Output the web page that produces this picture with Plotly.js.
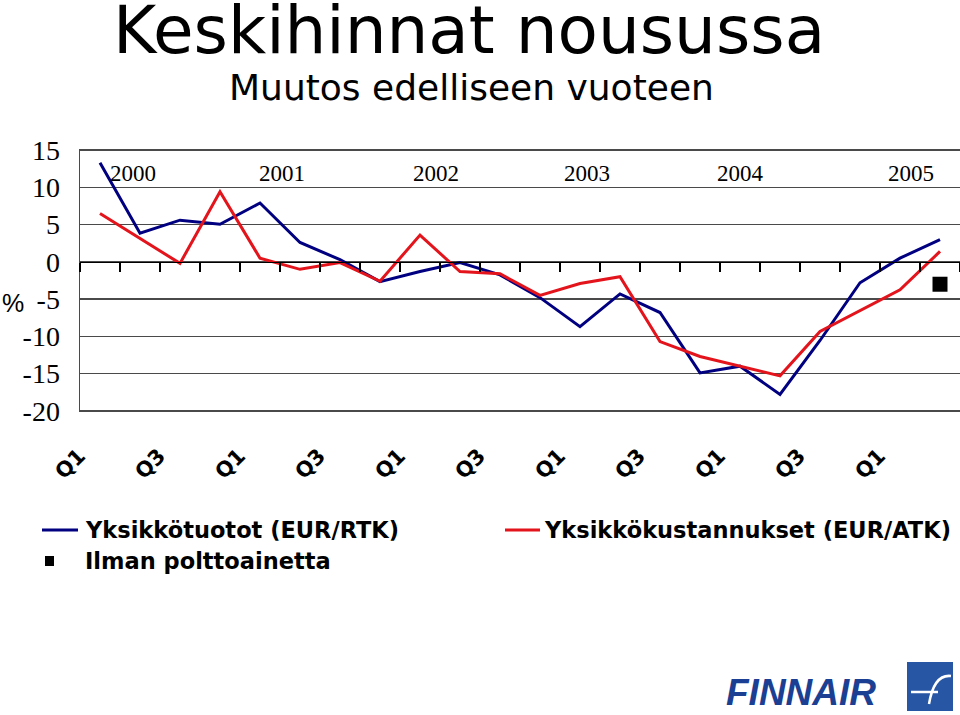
<!DOCTYPE html>
<html>
<head>
<meta charset="utf-8">
<script src="https://cdn.plot.ly/plotly-3.0.1.min.js"></script>
<style>html,body{margin:0;padding:0;background:#fff;}#chart{width:960px;height:715px;}</style>
</head>
<body>
<div id="chart"></div>
<script>
// ---- data ----
const years = ['2000', '2001', '2002', '2003', '2004', '2005'];
const quarters = ['Q1', 'Q2', 'Q3', 'Q4'];
const categories = [];
years.forEach(y => quarters.forEach(q => categories.push(y + ' ' + q)));
categories.splice(22); // data runs to 2005 Q2

const unitRevenue = [13.3, 3.85, 5.6, 5.05, 7.9, 2.6, 0.3, -2.65, -1.3, -0.1, -1.75,
                     -4.8, -8.7, -4.3, -6.8, -14.9, -14.0, -17.8, -10.55, -2.8, 0.5, 3.0];
const unitCost = [6.5, 3.2, -0.2, 9.4, 0.5, -1.0, -0.1, -2.6, 3.6, -1.3, -1.6,
                  -4.5, -2.9, -2.0, -10.7, -12.7, -14.0, -15.3, -9.35, -6.6, -3.75, 1.4];
const exFuelCat = ['2005 Q2'];
const exFuelVal = [-3.0];

const seriesNames = ['Yksikkötuotot (EUR/RTK)', 'Yksikkökustannukset (EUR/ATK)', 'Ilman polttoainetta'];
const yearLabelX = [133, 282, 436, 587, 740, 911]; // pixel centres of year captions
const yTicks = [15, 10, 5, 0, -5, -10, -15, -20];

// ---- geometry helpers (pixel -> paper) ----
const L = 80, R = 960, T = 149, B = 412;
const px = x => (x - L) / (R - L);
const py = y => (B - y) / (B - T);

const blue = '#000080', red = '#e3141b';

const traces = [
  {x: categories, y: unitRevenue, type: 'scatter', mode: 'lines', name: seriesNames[0],
   line: {color: blue, width: 3}, hoverinfo: 'x+y'},
  {x: categories, y: unitCost, type: 'scatter', mode: 'lines', name: seriesNames[1],
   line: {color: red, width: 3}, hoverinfo: 'x+y'},
  {x: exFuelCat, y: exFuelVal, type: 'scatter', mode: 'markers', name: seriesNames[2],
   marker: {color: '#000', symbol: 'square', size: 15}, hoverinfo: 'x+y'}
];

const annotations = [];
// title & subtitle
annotations.push({text: 'Keskihinnat nousussa', xref: 'paper', yref: 'paper', x: px(469), y: py(31),
  xanchor: 'center', yanchor: 'middle', showarrow: false,
  font: {family: 'DejaVu Sans, Verdana, sans-serif', size: 66, color: '#000'}});
annotations.push({text: 'Muutos edelliseen vuoteen', xref: 'paper', yref: 'paper', x: px(471), y: py(88),
  xanchor: 'center', yanchor: 'middle', showarrow: false,
  font: {family: 'DejaVu Sans, Verdana, sans-serif', size: 36, color: '#000'}});
// year captions
years.forEach((yr, i) => annotations.push({text: yr, xref: 'paper', yref: 'paper',
  x: px(yearLabelX[i]), y: py(173), xanchor: 'center', yanchor: 'middle', showarrow: false,
  font: {family: 'Liberation Serif, Times New Roman, serif', size: 23, color: '#000'}}));
// quarter labels (Q1 / Q3) below plot
categories.forEach((c, i) => {
  const q = c.split(' ')[1];
  if (q === 'Q1' || q === 'Q3') {
    annotations.push({text: '<b>' + q + '</b>', xref: 'x', yref: 'paper', x: c, y: py(464), xshift: -30,
      xanchor: 'center', yanchor: 'middle', textangle: -45, showarrow: false,
      font: {family: 'DejaVu Sans, Verdana, sans-serif', size: 21, color: '#000', weight: 700}});
  }
});
// % label
annotations.push({text: '%', xref: 'paper', yref: 'paper', x: px(13), y: py(303),
  xanchor: 'center', yanchor: 'middle', showarrow: false,
  font: {family: 'Liberation Sans, Arial, sans-serif', size: 25, color: '#000'}});
// legend texts
const legFont = {family: 'DejaVu Sans, Verdana, sans-serif', size: 22.5, color: '#000', weight: 700};
annotations.push({text: '<b>' + seriesNames[0] + '</b>', xref: 'paper', yref: 'paper', x: px(83), y: py(530),
  xanchor: 'left', yanchor: 'middle', showarrow: false, font: legFont});
annotations.push({text: '<b>' + seriesNames[1] + '</b>', xref: 'paper', yref: 'paper', x: px(542), y: py(530),
  xanchor: 'left', yanchor: 'middle', showarrow: false, font: legFont});
annotations.push({text: '<b>' + seriesNames[2] + '</b>', xref: 'paper', yref: 'paper', x: px(83), y: py(561),
  xanchor: 'left', yanchor: 'middle', showarrow: false, font: legFont});
// logo text
annotations.push({text: '<b><i>FINNAIR</i></b>', xref: 'paper', yref: 'paper', x: px(801), y: py(692),
  xanchor: 'center', yanchor: 'middle', showarrow: false,
  font: {family: 'Liberation Sans, Arial, sans-serif', size: 37, color: '#1b3f92', weight: 700, style: 'italic'}});

const shapes = [
  // legend samples
  {type: 'line', xref: 'paper', yref: 'paper', x0: px(42), x1: px(78), y0: py(530), y1: py(530),
   line: {color: blue, width: 3}},
  {type: 'line', xref: 'paper', yref: 'paper', x0: px(505), x1: px(540), y0: py(530), y1: py(530),
   line: {color: red, width: 3}},
  {type: 'rect', xref: 'paper', yref: 'paper', x0: px(45), x1: px(54), y0: py(556), y1: py(566),
   fillcolor: '#000', line: {width: 0}},
  // logo square
  {type: 'rect', xref: 'paper', yref: 'paper', x0: px(907), x1: px(953), y0: py(662), y1: py(711),
   fillcolor: '#2656a4', line: {width: 0}},
  {type: 'path', xref: 'paper', yref: 'paper',
   path: `M ${px(911)} ${py(692)} L ${px(938)} ${py(692)} M ${px(929)} ${py(704)} Q ${px(934)} ${py(674)} ${px(951)} ${py(676)}`,
   line: {color: '#fff', width: 2.5}}
];

const layout = {
  width: 960, height: 715,
  margin: {l: L, r: 960 - R, t: T, b: 715 - B, pad: 0},
  paper_bgcolor: '#fff', plot_bgcolor: '#fff',
  showlegend: false,
  xaxis: {
    type: 'category', categoryorder: 'array', categoryarray: categories,
    range: [-0.5, categories.length - 0.5],
    anchor: 'free', position: 20.15 / 35.3,
    showline: true, linecolor: '#000', linewidth: 1.5,
    ticks: 'outside', ticklen: 9, tickwidth: 1.5, tickcolor: '#000',
    tickson: 'boundaries', tickmode: 'linear', tick0: 0, dtick: 1,
    showticklabels: false, showgrid: false, zeroline: false, fixedrange: true
  },
  yaxis: {
    range: [-20.15, 15.15], tickmode: 'array', tickvals: yTicks, ticktext: yTicks.map(String),
    showgrid: true, gridcolor: '#4a4a4a', gridwidth: 1.5,
    showline: true, linecolor: '#4a4a4a', linewidth: 1.5,
    zeroline: false, ticks: '', ticklabelstandoff: 13,
    tickfont: {family: 'Liberation Serif, Times New Roman, serif', size: 28, color: '#000'},
    fixedrange: true
  },
  annotations: annotations,
  shapes: shapes
};

Plotly.newPlot('chart', traces, layout, {displayModeBar: false, staticPlot: true});
</script>
</body>
</html>
